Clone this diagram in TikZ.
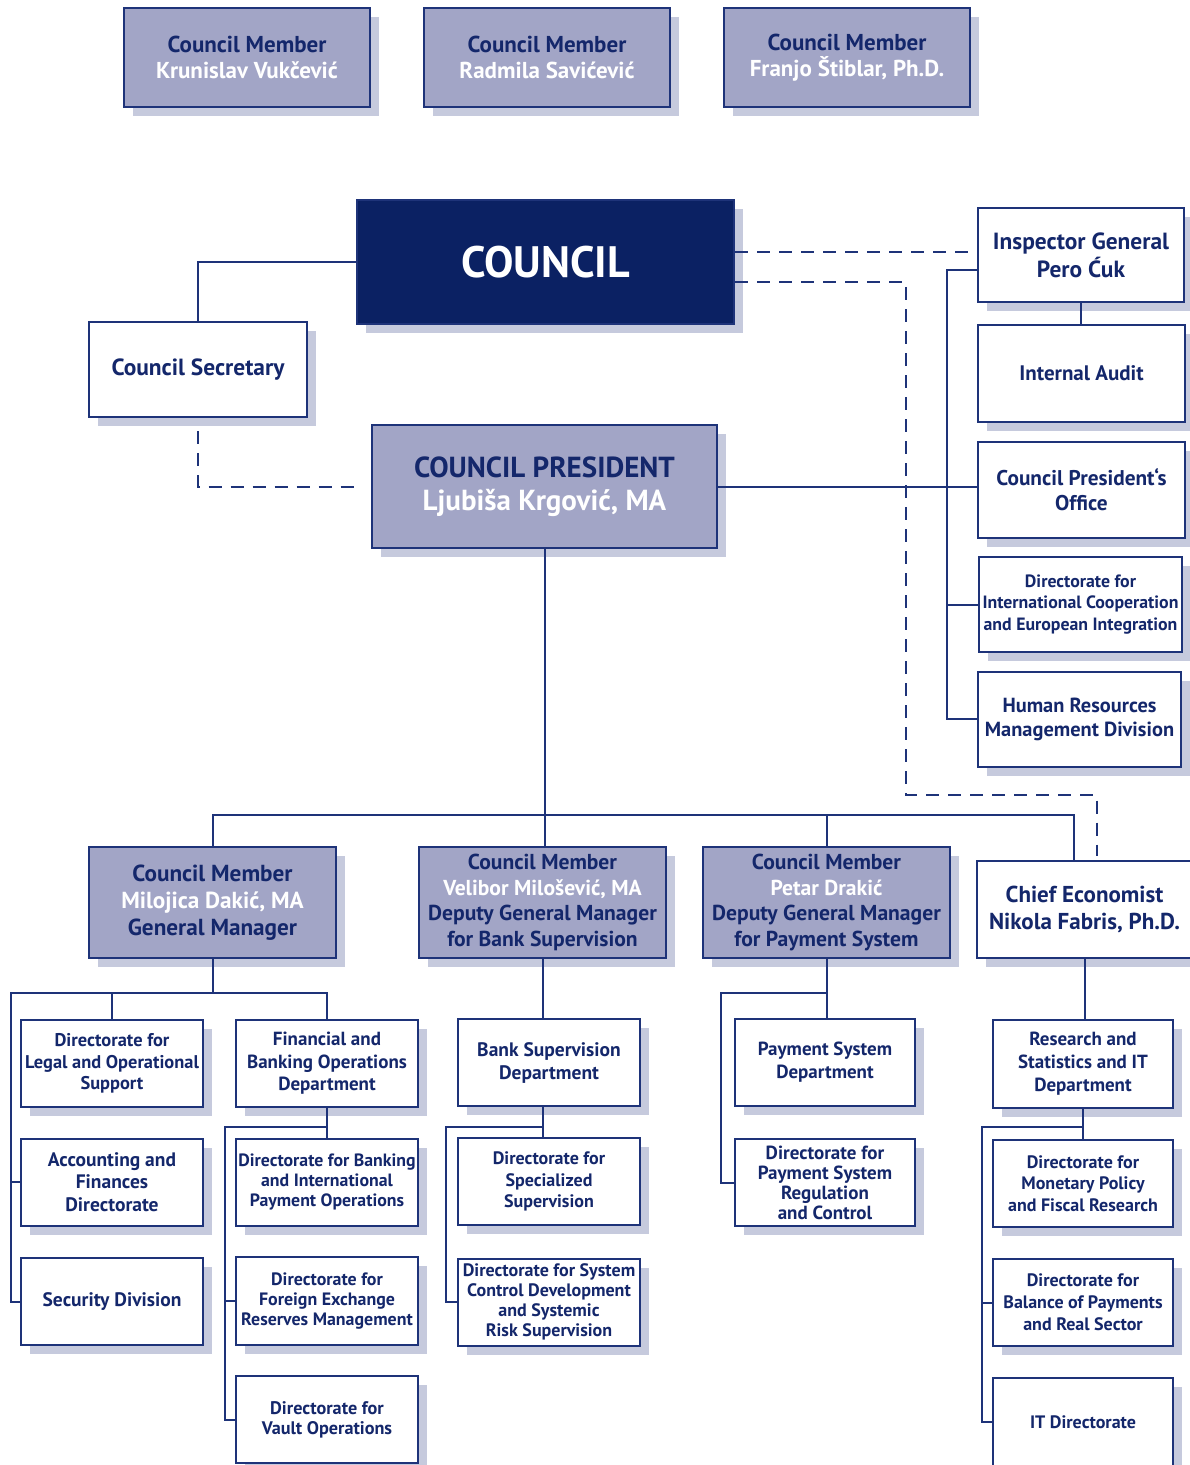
\documentclass[tikz,border=0pt]{standalone}
\usepackage{fontspec}
\setmainfont{PT Sans}
\usetikzlibrary{shadows,calc}
\definecolor{navyfill}{HTML}{0B2163}
\definecolor{linec}{HTML}{1E3379}
\definecolor{txt}{HTML}{14276B}
\definecolor{purp}{HTML}{A2A5C6}
\definecolor{shadowc}{HTML}{C6CADD}
\tikzset{
  base/.style={draw=linec, line width=2pt, inner sep=0pt, align=center, text=txt,
    font=\bfseries\fontsize{18.5}{22}\selectfont,
    drop shadow={shadow xshift=9pt, shadow yshift=-9pt, fill=shadowc, opacity=1, draw=none}},
  wbox/.style={base, fill=white},
  pbox/.style={base, fill=purp},
  sz/.style 2 args={minimum width=#1pt, minimum height=#2pt},
  fs/.style 2 args={font=\bfseries\fontsize{#1}{#2}\selectfont},
  conn/.style={draw=linec, line width=2pt},
  dashedline/.style={conn, dash pattern=on 13pt off 9pt},
}
\newcommand{\wt}[1]{\textcolor{white}{#1}}
\begin{document}
\begin{tikzpicture}[x=1pt,y=-1pt]
\useasboundingbox (0,0) rectangle (1190,1465);
\fill[white] (0,0) rectangle (1190,1465);

% top council members
\node[pbox, sz={246}{99}, fs={23}{26.5}] (cm1) at (247,57.5) {Council Member\\\wt{Krunislav Vukčević}};
\node[pbox, sz={246}{99}, fs={23}{26.5}] (cm2) at (547,57.5) {Council Member\\\wt{Radmila Savićević}};
\node[pbox, sz={246}{99}, fs={23}{26.5}] (cm3) at (847,57.5) {Council Member\\\wt{Franjo Štiblar, Ph.D.}};

% council
\node[base, fill=navyfill, sz={377}{124}, fs={44}{50}, text=white] (council) at (545.5,262) {COUNCIL};
\node[wbox, sz={218}{95}, fs={23.4}{27}] (sec) at (198,369.5) {Council Secretary};
\node[pbox, sz={345}{123}, fs={29}{33}] (pres) at (544.5,486.5) {COUNCIL PRESIDENT\\\wt{Ljubiša Krgović, MA}};

% right column
\node[wbox, sz={206}{94}, fs={23.4}{28}] (ig) at (1081,255) {Inspector General\\Pero Ćuk};
\node[wbox, sz={207}{97}, fs={21}{25}] (ia) at (1081.5,373.5) {Internal Audit};
\node[wbox, sz={207}{96}, fs={21.3}{25}] (cpo) at (1081.5,490) {Council President`s\\Office};
\node[wbox, sz={203}{95}, fs={17.8}{21.5}] (dic) at (1080.5,604.5) {Directorate for\\International Cooperation\\and European Integration};
\node[wbox, sz={203}{95}, fs={20.4}{24}] (hr) at (1079.5,719) {Human Resources\\Management Division};

% middle row
\node[pbox, sz={247}{111}, fs={23.2}{27}] (mil) at (212.5,902.5) {Council Member\\\wt{Milojica Dakić, MA}\\General Manager};
\node[pbox, sz={247}{111}, fs={21.6}{25.5}] (vel) at (542.5,902.5) {Council Member\\\wt{Velibor Milošević, MA}\\Deputy General Manager\\for Bank Supervision};
\node[pbox, sz={247}{111}, fs={21.6}{25.5}] (pet) at (826.5,902.5) {Council Member\\\wt{Petar Drakić}\\Deputy General Manager\\for Payment System};
\node[wbox, sz={215}{97}, fs={23}{27}] (chief) at (1084.5,909.5) {Chief Economist\\Nikola Fabris, Ph.D.};

% bottom rows
\node[wbox, sz={182}{87}, fs={18.4}{21.5}] (leg) at (112,1063.5) {Directorate for\\Legal and Operational\\Support};
\node[wbox, sz={182}{87}, fs={19}{22.5}] (fin) at (327,1063.5) {Financial and\\Banking Operations\\Department};
\node[wbox, sz={182}{87}, fs={19.5}{23}] (bsd) at (549,1062.5) {Bank Supervision\\Department};
\node[wbox, sz={180}{87}, fs={19}{23}] (psd) at (825,1062.5) {Payment System\\Department};
\node[wbox, sz={180}{88}, fs={19}{23}] (rsd) at (1083,1064) {Research and\\Statistics and IT\\Department};

\node[wbox, sz={182}{87}, fs={19.5}{22.5}] (acc) at (112,1182) {Accounting and\\Finances\\Directorate};
\node[wbox, sz={182}{87}, fs={17.8}{20}] (dbk) at (327,1182) {Directorate for Banking\\and International\\Payment Operations};
\node[wbox, sz={182}{87}, fs={18}{21.5}] (dss) at (549,1181.5) {Directorate for\\Specialized\\Supervision};
\node[wbox, sz={180}{87}, fs={19}{20}] (psr) at (825,1182.5) {Directorate for\\Payment System\\Regulation\\and Control};
\node[wbox, sz={180}{87}, fs={18}{21.5}] (mpf) at (1083,1183.5) {Directorate for\\Monetary Policy\\and Fiscal Research};

\node[wbox, sz={182}{87}, fs={19.5}{22}] (secd) at (112,1301.5) {Security Division};
\node[wbox, sz={182}{88}, fs={17.9}{20}] (fx) at (327,1301) {Directorate for\\Foreign Exchange\\Reserves Management};
\node[wbox, sz={182}{87}, fs={18}{20}] (dsc) at (549,1302) {Directorate for System\\Control Development\\and Systemic\\Risk Supervision};
\node[wbox, sz={180}{87}, fs={18}{22}] (bop) at (1083,1302.5) {Directorate for\\Balance of Payments\\and Real Sector};

\node[wbox, sz={182}{87}, fs={18.2}{20}] (vault) at (327,1419.5) {Directorate for\\Vault Operations};
\node[wbox, sz={180}{88}, fs={18}{22}] (itd) at (1083,1422) {IT Directorate};

% helper coordinates
\coordinate (rb) at (947,0);
\coordinate (dx) at (906,795);
\coordinate (bus) at (0,815);
\coordinate (b1) at (0,993);
\coordinate (b2) at (0,1127);
\coordinate (lx1) at (11,0);
\coordinate (lx2) at (225,0);
\coordinate (lx3) at (446,0);
\coordinate (lx4) at (721,0);
\coordinate (lx5) at (982,0);
\coordinate (chd) at ([xshift=-11pt]chief.north);
\coordinate (ced) at ([xshift=12pt, yshift=4pt]chief.north);

% top connectors
\draw[conn] (council.west) -| (sec.north);
\draw[dashedline] ([yshift=-13pt]sec.south) |- ([xshift=-10pt]pres.west);
\draw[conn] (pres.east) -- (pres.east -| cpo.west);
\draw[dashedline] ([yshift=10pt]council.east) -- ([yshift=10pt]council.east -| ig.west);
\draw[dashedline] ([yshift=-20pt]council.east) -| (dx) -| (ced);
\draw[conn] ([yshift=-15pt]ig.west) -| (rb |- hr.west) -- (hr.west);
\draw[conn] (rb |- dic.west) -- (dic.west);
\draw[conn] (ig.south) -- (ig.south |- ia.north);

% trunk
\draw[conn] (pres.south) -- (pres.south |- vel.north);
\draw[conn] (mil.north) |- (chd |- bus) -- (chd);
\draw[conn] (pet.north) -- (pet.north |- bus);

% Milojica branch
\draw[conn] (mil.south) -- (mil.south |- b1);
\draw[conn] (leg.north) -- (leg.north |- b1);
\draw[conn] (fin.north) |- (lx1 |- b1) |- (secd.west);
\draw[conn] (lx1 |- acc.west) -- (acc.west);

% Financial branch
\draw[conn] (fin.south) -- (fin.south |- dbk.north);
\draw[conn] (fin.south |- b2) -| (lx2 |- vault.west) -- (vault.west);
\draw[conn] (lx2 |- fx.west) -- (fx.west);

% Bank supervision branch
\draw[conn] (vel.south) -- (vel.south |- bsd.north);
\draw[conn] (vel.south |- bsd.south) -- (vel.south |- dss.north);
\draw[conn] (vel.south |- b2) -| (lx3 |- dsc.west) -- (dsc.west);

% Petar branch
\draw[conn] (pet.south) -- (pet.south |- psd.north);
\draw[conn] (pet.south |- b1) -| (lx4 |- psr.west) -- (psr.west);

% Chief economist branch
\draw[conn] (chief.south) -- (chief.south |- rsd.north);
\draw[conn] (rsd.south) -- (rsd.south |- mpf.north);
\draw[conn] (rsd.south |- b2) -| (lx5 |- itd.west) -- (itd.west);
\draw[conn] (lx5 |- bop.west) -- (bop.west);
\end{tikzpicture}
\end{document}
